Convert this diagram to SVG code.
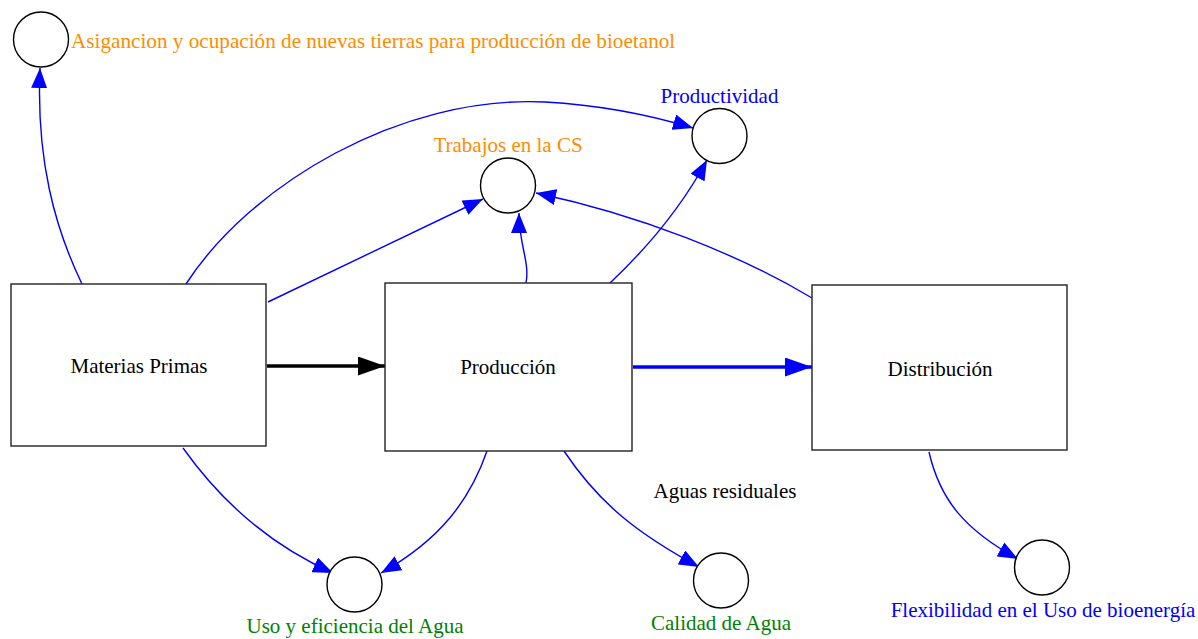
<svg xmlns="http://www.w3.org/2000/svg" width="1198" height="639" viewBox="0 0 1198 639">
<style>
.box{fill:#fff;stroke:#222;stroke-width:1.4}
.cir{fill:#fff;stroke:#000;stroke-width:1.4}
text{font-family:"Liberation Serif","Times New Roman",serif;font-size:21px}
.n{fill:#000;text-anchor:middle}
.o{fill:#ff8c00}
.b{fill:#0000ff}
.g{fill:#008000}
.m{text-anchor:middle}
.e{fill:none;stroke:#0000ff;stroke-width:1.4}
</style>
<defs>
<marker id="ab" viewBox="0 0 20 16" refX="20" refY="8" markerWidth="20" markerHeight="16" markerUnits="userSpaceOnUse" orient="auto"><path d="M0,0 L20,8 L0,16 Z" fill="#0000ff"/></marker>
<marker id="tk" viewBox="0 0 27 19" refX="27" refY="9.5" markerWidth="27" markerHeight="19" markerUnits="userSpaceOnUse" orient="auto"><path d="M0,0 L27,9.5 L0,19 Z" fill="#000"/></marker>
<marker id="tb" viewBox="0 0 27 19" refX="27" refY="9.5" markerWidth="27" markerHeight="19" markerUnits="userSpaceOnUse" orient="auto"><path d="M0,0 L27,9.5 L0,19 Z" fill="#0000ff"/></marker>
</defs>
<g id="edges">
<path class="e" d="M82,284 C55,228 36,160 40,68" marker-end="url(#ab)"/>
<path class="e" d="M186,284 C250,185 400,95 545,102 C600,105 650,115 693,128" marker-end="url(#ab)"/>
<path class="e" d="M268,302 L483,199" marker-end="url(#ab)"/>
<path d="M267,366 L385,366" fill="none" stroke="#000" stroke-width="3.5" marker-end="url(#tk)"/>
<path class="e" d="M526,283 C530,262 519,245 519,213" marker-end="url(#ab)"/>
<path class="e" d="M610,283 C645,250 680,210 707,160" marker-end="url(#ab)"/>
<path class="e" d="M812,298 C740,255 640,215 536,193" marker-end="url(#ab)"/>
<path d="M633,367 L812,367" fill="none" stroke="#0000ff" stroke-width="3.5" marker-end="url(#tb)"/>
<path class="e" d="M183,448 C220,500 270,545 333,573" marker-end="url(#ab)"/>
<path class="e" d="M487,451 C470,500 440,540 381,573" marker-end="url(#ab)"/>
<path class="e" d="M564,451 C600,505 640,535 699,567" marker-end="url(#ab)"/>
<path class="e" d="M929,452 C940,500 965,530 1018,559" marker-end="url(#ab)"/>
</g>
<g id="materias"><rect class="box" x="11" y="284" width="255" height="162"/><text class="n" x="139" y="373">Materias Primas</text></g>
<g id="produccion"><rect class="box" x="385" y="283" width="247" height="168"/><text class="n" x="508" y="374">Producción</text></g>
<g id="distribucion"><rect class="box" x="812" y="285" width="255" height="165"/><text class="n" x="940" y="376">Distribución</text></g>
<g id="asig"><circle class="cir" cx="41" cy="39.5" r="27.5"/><text class="o" x="71" y="48" style="font-size:21.2px">Asigancion y ocupación de nuevas tierras para producción de bioetanol</text></g>
<g id="productividad"><circle class="cir" cx="719.5" cy="136" r="27.5"/><text class="b m" x="719.5" y="103">Productividad</text></g>
<g id="trabajos"><circle class="cir" cx="508" cy="185.5" r="27.5"/><text class="o m" x="508" y="152">Trabajos en la CS</text></g>
<g id="uso"><circle class="cir" cx="354.5" cy="584.5" r="27.5"/><text class="g m" x="355" y="633">Uso y eficiencia del Agua</text></g>
<g id="calidad"><circle class="cir" cx="721" cy="580.5" r="27.5"/><text class="g m" x="721" y="630">Calidad de Agua</text></g>
<g id="flex"><circle class="cir" cx="1042" cy="567.5" r="27.5"/><text class="b m" x="1043" y="617">Flexibilidad en el Uso de bioenergía</text></g>
<g id="aguas"><text class="n" x="725" y="498">Aguas residuales</text></g>
</svg>
